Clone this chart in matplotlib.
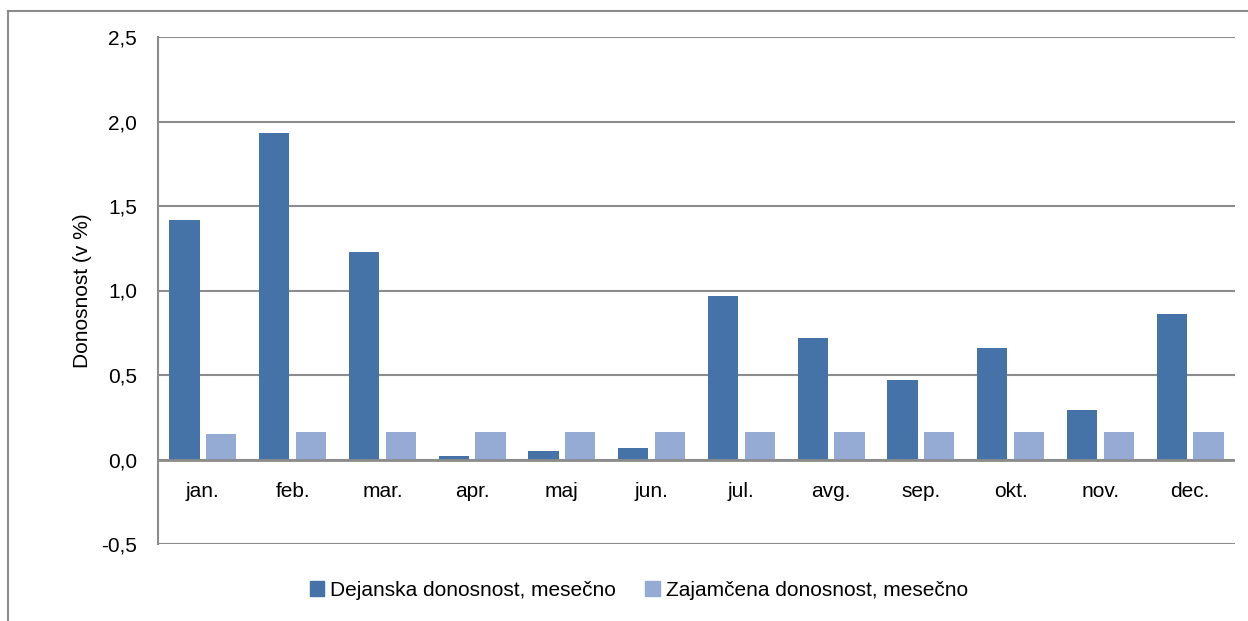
import matplotlib.pyplot as plt
from matplotlib.lines import Line2D
from matplotlib.patches import Patch
import numpy as np

months = ['jan.', 'feb.', 'mar.', 'apr.', 'maj', 'jun.', 'jul.', 'avg.', 'sep.', 'okt.', 'nov.', 'dec.']
dejanska = [1.42, 1.93, 1.23, 0.02, 0.05, 0.07, 0.97, 0.72, 0.47, 0.66, 0.29, 0.86]
zajamcena = [0.15, 0.16, 0.16, 0.16, 0.16, 0.16, 0.16, 0.16, 0.16, 0.16, 0.16, 0.16]
yticks = [-0.5, 0.0, 0.5, 1.0, 1.5, 2.0, 2.5]

dark = '#4572a7'
light = '#95abd3'
grid = '#8c8c8c'

plt.rcParams['font.family'] = ['Liberation Sans Narrow', 'Liberation Sans', 'DejaVu Sans']

W, H = 1248, 621
fig = plt.figure(figsize=(W / 100, H / 100), dpi=100)

# outer frame (left and top only visible)
fig.add_artist(Line2D([8 / W, 8 / W], [0, 1 - 11 / H], color=grid, lw=1.5))
fig.add_artist(Line2D([8 / W, 1], [1 - 11 / H, 1 - 11 / H], color=grid, lw=1.5))

x0, x1, y0, y1 = 158, 1235, 37, 544
ax = fig.add_axes([x0 / W, 1 - y1 / H, (x1 - x0) / W, (y1 - y0) / H])

x = np.arange(len(months))
bw = 0.335
ax.bar(x - 0.205, dejanska, bw, color=dark, zorder=3)
ax.bar(x + 0.205, zajamcena, bw, color=light, zorder=3)

ax.set_xlim(-0.5, len(months) - 0.5)
ax.set_ylim(-0.5, 2.5)
ax.set_yticks(yticks)
ax.set_yticklabels([f'{v:.1f}'.replace('.', ',') for v in yticks], fontsize=15)
ax.yaxis.grid(True, color=grid, lw=1.5, zorder=0)
ax.axhline(0, color=grid, lw=2, zorder=4)

for s in ['top', 'right', 'bottom']:
    ax.spines[s].set_visible(False)
ax.spines['left'].set_color(grid)
ax.spines['left'].set_linewidth(1.5)
ax.tick_params(axis='y', length=0, pad=15, colors='black')

ax.set_xticks([])
for i, m in enumerate(months):
    ax.text(i, -0.19, m, ha='center', va='center', fontsize=15)

ax.set_ylabel('Donosnost (v %)', fontsize=15)
ax.yaxis.set_label_coords(-0.061, 0.5)

handles = [Patch(color=dark, label='Dejanska donosnost, mesečno'),
           Patch(color=light, label='Zajamčena donosnost, mesečno')]
fig.legend(handles=handles, loc='center', bbox_to_anchor=(639 / W, 1 - 590 / H),
           ncol=2, frameon=False, fontsize=15, handlelength=0.7, handleheight=0.7,
           handletextpad=0.3, columnspacing=1.4)

fig.savefig('out.png', dpi=100)
